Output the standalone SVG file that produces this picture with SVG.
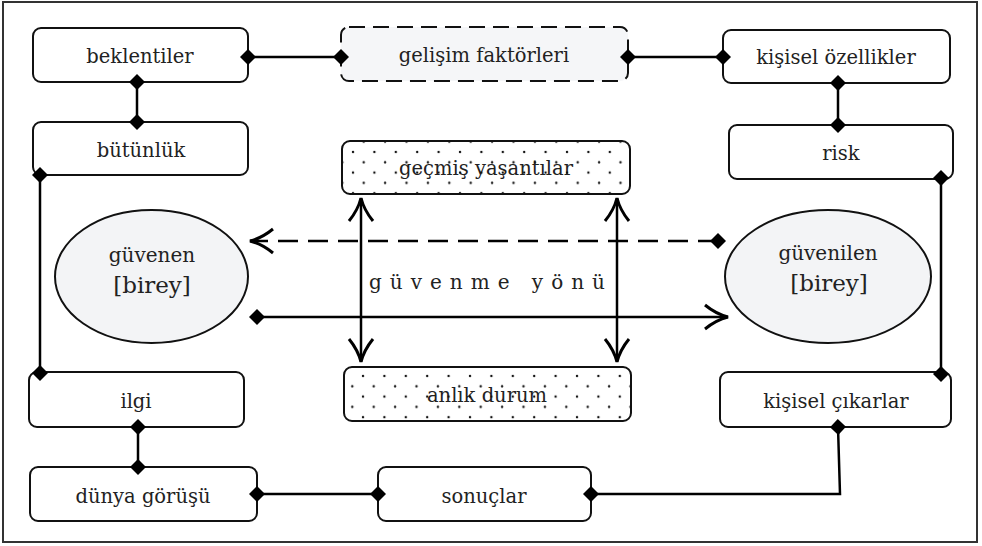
<svg xmlns="http://www.w3.org/2000/svg" width="982" height="546" viewBox="0 0 982 546">
<style>
.box{fill:#ffffff;stroke:#111;stroke-width:2}
.dash{fill:#f5f6f8;stroke:#111;stroke-width:2;stroke-dasharray:16 8}
.dotbg{fill:#fff;stroke:#111;stroke-width:2}
.ell{fill:#f3f4f6;stroke:#111;stroke-width:2}
.t{font-family:'DejaVu Serif','Liberation Serif',serif;font-size:19.5px;fill:#222;text-anchor:middle}
.c{fill:none;stroke:#000;stroke-width:2.5}
</style>
<defs>
<pattern id="dots1" patternUnits="userSpaceOnUse" width="21.4" height="20.6" x="351" y="150">
<circle cx="2" cy="2" r="1.2" fill="#111"/>
<circle cx="12.7" cy="12.3" r="1.2" fill="#111"/>
</pattern>
<pattern id="dots2" patternUnits="userSpaceOnUse" width="21.4" height="20.6" x="361" y="374">
<circle cx="2" cy="2" r="1.2" fill="#111"/>
<circle cx="12.7" cy="12.3" r="1.2" fill="#111"/>
</pattern>
<marker id="dia" markerUnits="userSpaceOnUse" markerWidth="20" markerHeight="20" refX="10" refY="10" orient="auto" viewBox="0 0 20 20">
<path d="M2,10 L10,2 L18,10 L10,18 Z" fill="#000"/>
</marker>
<marker id="arr" markerUnits="userSpaceOnUse" markerWidth="30" markerHeight="30" refX="26" refY="15" orient="auto-start-reverse" viewBox="0 0 30 30">
<path d="M3,3 Q14,12 26,15 Q14,18 3,27" fill="none" stroke="#000" stroke-width="3" stroke-linejoin="miter"/>
</marker>
</defs>
<rect x="3" y="2" width="974" height="540" fill="#fff" stroke="#333" stroke-width="2"/>

<g id="beklentiler"><rect class="box" x="33" y="28" width="215" height="54" rx="8"/><text class="t" x="140" y="63">beklentiler</text></g>
<g id="gelisim"><rect class="dash" x="341" y="27" width="287" height="54" rx="8"/><text class="t" x="484" y="62">gelişim faktörleri</text></g>
<g id="kisisel-ozellikler"><rect class="box" x="723" y="30" width="227" height="53" rx="8"/><text class="t" x="836" y="64">kişisel özellikler</text></g>
<g id="butunluk"><rect class="box" x="33" y="122" width="215" height="53" rx="8"/><text class="t" x="141" y="157">bütünlük</text></g>
<g id="risk"><rect class="box" x="729" y="125" width="224" height="54" rx="8"/><text class="t" x="841" y="160">risk</text></g>
<g id="gecmis"><rect class="dotbg" x="342" y="141" width="288" height="53" rx="8"/><text class="t" x="486" y="175">geçmiş yaşantılar</text><rect x="342" y="141" width="288" height="53" rx="8" fill="url(#dots1)"/></g>
<g id="anlik"><rect class="dotbg" x="344" y="367" width="287" height="54" rx="8"/><text class="t" x="487" y="402">anlık durum</text><rect x="344" y="367" width="287" height="54" rx="8" fill="url(#dots2)"/></g>
<g id="ilgi"><rect class="box" x="29" y="372" width="215" height="55" rx="8"/><text class="t" x="136" y="408">ilgi</text></g>
<g id="dunya"><rect class="box" x="30" y="467" width="227" height="54" rx="8"/><text class="t" x="143" y="503">dünya görüşü</text></g>
<g id="sonuclar"><rect class="box" x="378" y="467" width="213" height="54" rx="8"/><text class="t" x="484" y="503">sonuçlar</text></g>
<g id="kisisel-cikarlar"><rect class="box" x="720" y="372" width="231" height="55" rx="8"/><text class="t" x="836" y="408">kişisel çıkarlar</text></g>

<g id="guvenen"><ellipse class="ell" cx="151.5" cy="276.5" rx="96.5" ry="66.5"/><text class="t" x="152" y="262" style="font-size:20px">güvenen</text><text class="t" x="152" y="293" style="font-size:23px">[birey]</text></g>
<g id="guvenilen"><ellipse class="ell" cx="828" cy="276.5" rx="103" ry="66.5"/><text class="t" x="828" y="260" style="font-size:20px">güvenilen</text><text class="t" x="829" y="291" style="font-size:23px">[birey]</text></g>

<g id="label"><text class="t" x="491" y="289" style="font-size:20px;letter-spacing:8px">güvenme yönü</text></g>

<g id="connectors">
<path class="c" d="M248,57 H341" marker-start="url(#dia)" marker-end="url(#dia)"/>
<path class="c" d="M628,57 H723" marker-start="url(#dia)" marker-end="url(#dia)"/>
<path class="c" d="M137,82 V122" marker-start="url(#dia)" marker-end="url(#dia)"/>
<path class="c" d="M838,83 V125" marker-start="url(#dia)" marker-end="url(#dia)"/>
<path class="c" d="M40,175 V373" marker-start="url(#dia)" marker-end="url(#dia)"/>
<path class="c" d="M941,178 V374" marker-start="url(#dia)" marker-end="url(#dia)"/>
<path class="c" d="M138,427 V467" marker-start="url(#dia)" marker-end="url(#dia)"/>
<path class="c" d="M257,494 H378" marker-start="url(#dia)" marker-end="url(#dia)"/>
<path class="c" d="M591,494 H840 L838,427" marker-start="url(#dia)" marker-end="url(#dia)"/>
<path class="c" d="M718,241 H250" stroke-dasharray="20 10" marker-start="url(#dia)" marker-end="url(#arr)"/>
<path class="c" d="M257,317 H728" marker-start="url(#dia)" marker-end="url(#arr)"/>
<path class="c" d="M361,198 V362" marker-start="url(#arr)" marker-end="url(#arr)"/>
<path class="c" d="M617,198 V362" marker-start="url(#arr)" marker-end="url(#arr)"/>
</g>
</svg>
